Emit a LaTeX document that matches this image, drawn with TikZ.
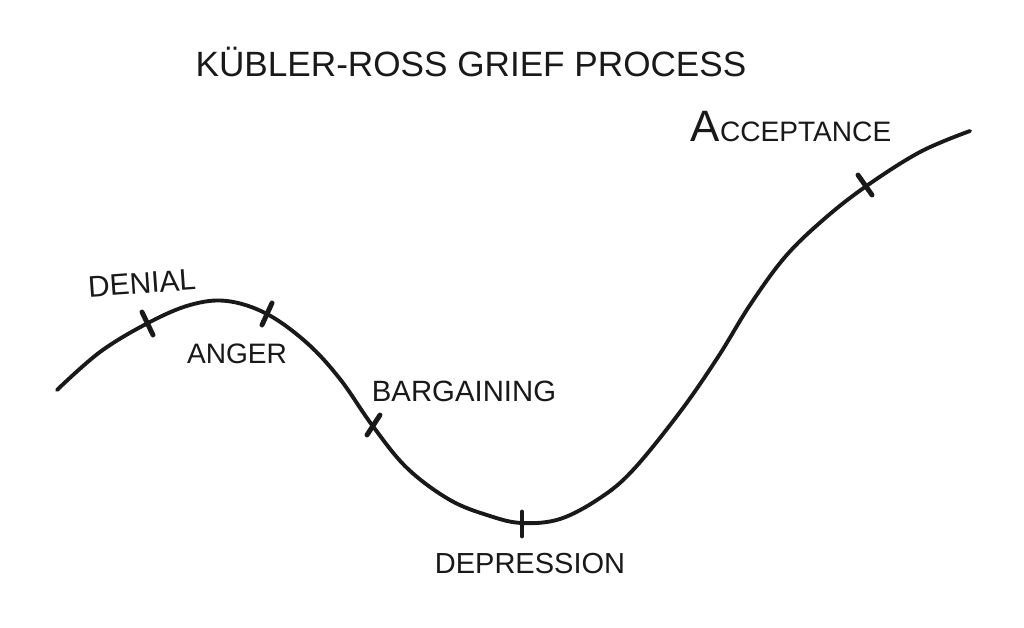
\documentclass[tikz,border=0pt]{standalone}
\usepackage{fontspec}
\setmainfont{Liberation Sans}
\begin{document}
\begin{tikzpicture}[x=0.02cm,y=-0.02cm,
  ink/.style={draw=black!90,line cap=round,line join=round},
  curveline/.style={ink,line width=2.2pt},
  tickline/.style={ink,line width=2.8pt},
  lbl/.style={inner sep=0pt,text=black!90}]
\useasboundingbox (0,0) rectangle (1024,628);
\fill[white] (0,0) rectangle (1024,628);

% title
\node[lbl,font=\fontsize{20}{20}\selectfont] (title) at (471,62) {KÜBLER-ROSS GRIEF PROCESS};

% curve
\draw[curveline] plot[smooth,tension=0.6] coordinates {
  (57,390) (100,352) (148,323) (190,305) (227,301) (267,314) (307,343)
  (340,379) (372,425) (407,468) (450,500) (490,516) (522,523) (560,519)
  (600,498) (633,470) (680,412) (718,357) (750,305) (785,257) (823,220)
  (865,187) (920,152) (970,131)};

% tick marks
\coordinate (t1a) at (142,312); \coordinate (t1b) at (153,335);
\coordinate (t2a) at (272,303); \coordinate (t2b) at (262,325);
\coordinate (t3a) at (380,415); \coordinate (t3b) at (367,435);
\coordinate (t4a) at (522,512); \coordinate (t4b) at (522,536);
\coordinate (t5a) at (858,175); \coordinate (t5b) at (872,195);
\draw[tickline] (t1a) -- (t1b);
\draw[tickline] (t2a) -- (t2b);
\draw[tickline] (t3a) -- (t3b);
\draw[tickline] (t4a) -- (t4b);
\draw[tickline] (t5a) -- (t5b);

% labels
\node[lbl,font=\fontsize{17}{17}\selectfont,rotate=4] (denial) at (142,283) {DENIAL};
\node[lbl,font=\fontsize{16}{16}\selectfont] (anger) at (237,354) {ANGER};
\node[lbl,font=\fontsize{16.7}{16.7}\selectfont] (bargaining) at (464,391) {BARGAINING};
\node[lbl,font=\fontsize{16.5}{16.5}\selectfont] (depression) at (530,564) {DEPRESSION};
\node[lbl,anchor=base] (acceptance) at (791,142)
  {{\fontsize{25}{25}\selectfont A}{\fontsize{16}{16}\selectfont CCEPTANCE}};
\end{tikzpicture}
\end{document}
